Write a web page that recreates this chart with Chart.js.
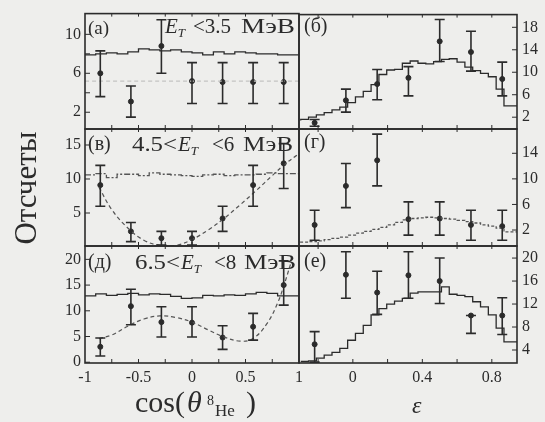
<!DOCTYPE html>
<html>
<head>
<meta charset="utf-8">
<script src="https://cdn.jsdelivr.net/npm/chart.js"></script>
<style>
  body { margin: 0; background: #eeeeec; }
  #wrap { position: relative; width: 545px; height: 422px; }
  #wrap canvas { position: absolute; left: 0; top: 0; }
</style>
</head>
<body>
<div id="wrap">
  <canvas id="pA" width="545" height="422"></canvas>
  <canvas id="pB" width="545" height="422"></canvas>
  <canvas id="pV" width="545" height="422"></canvas>
  <canvas id="pG" width="545" height="422"></canvas>
  <canvas id="pD" width="545" height="422"></canvas>
  <canvas id="pE" width="545" height="422"></canvas>
</div>
<script>
// ---- данные: угловые распределения (левая колонка) ----
var cosPts = [-0.857, -0.571, -0.286, 0, 0.286, 0.571, 0.857];
var cosHistStart = -1, cosHistWidth = 0.1;

var aVal = [6.0, 3.1, 8.8, 5.2, 5.1, 5.1, 5.1];
var aLo  = [3.6, 1.5, 6.0, 2.9, 2.9, 2.9, 2.9];
var aHi  = [8.3, 4.7, 11.5, 7.1, 7.1, 7.1, 7.1];
var aHist = [7.9, 7.9, 8.0, 8.1, 8.0, 8.2, 8.5, 8.4, 8.3, 8.4, 8.2, 8.1, 7.9, 8.2, 8.0, 8.2, 8.1, 8.0, 8.0, 7.9];
var aFitX = [-1, 1];
var aFitY = [5.2, 5.2];

var vVal = [9.1, 2.3, 1.3, 1.3, 4.2, 9.1, 12.3];
var vLo  = [6.0, 0.8, 0.3, 0.3, 2.3, 6.0, 8.6];
var vHi  = [12.0, 3.6, 2.3, 2.3, 6.0, 12.0, 15.2];
var vHist = [10.6, 10.6, 10.8, 10.2, 10.7, 10.7, 10.5, 10.9, 10.7, 10.6, 10.5, 10.4, 10.6, 10.7, 10.5, 10.6, 10.6, 10.7, 10.9, 10.8];
var vFitX = [-0.87, -0.75, -0.6, -0.45, -0.3, -0.15, 0, 0.15, 0.3, 0.45, 0.6, 0.75, 0.87, 0.98];
var vFitY = [8.8, 5.5, 2.8, 1.0, 0.25, 0.25, 1.1, 2.5, 4.2, 6.2, 8.3, 10.5, 12.2, 13.5];

var dVal = [3.0, 10.9, 7.8, 7.7, 4.8, 6.9, 15.0];
var dLo  = [1.2, 7.3, 4.9, 4.9, 2.5, 4.3, 11.1];
var dHi  = [4.7, 14.2, 10.8, 10.8, 7.1, 9.5, 19.7];
var dHist = [12.8, 12.9, 13.3, 13.0, 13.2, 13.4, 13.1, 13.3, 13.2, 12.8, 12.4, 12.5, 13.0, 12.9, 13.1, 13.0, 13.3, 13.6, 13.4, 12.9];
var dFitX = [-0.87, -0.75, -0.6, -0.45, -0.3, -0.15, 0, 0.15, 0.3, 0.45, 0.57, 0.7, 0.8, 0.86, 0.92];
var dFitY = [4.6, 5.3, 7.0, 8.4, 9.0, 8.7, 7.8, 6.3, 4.9, 4.1, 4.6, 7.5, 11.5, 15.0, 19.0];

// ---- данные: распределения по eps (правая колонка) ----
var epsPts = [-0.22, -0.04, 0.14, 0.32, 0.5, 0.68, 0.86];
var epsHistStart = -0.3, epsHistWidth = 0.045;

var bVal = [1.0, 5.0, 7.9, 9.0, 15.5, 13.6, 8.8];
var bLo  = [0.4, 2.9, 5.1, 5.8, 11.9, 10.2, 5.8];
var bHi  = [1.6, 7.0, 10.5, 11.0, 19.4, 17.3, 11.8];
var bHist = [1.4, 1.6, 2.0, 2.4, 2.8, 3.3, 3.8, 4.6, 5.6, 6.6, 7.8, 9.6, 10.4, 10.5, 11.6, 12.0, 11.6, 11.5, 11.9, 12.3, 12.4, 11.8, 10.9, 10.3, 9.8, 9.2, 7.0, 4.0];

var gVal = [2.8, 8.9, 12.9, 3.7, 3.8, 2.8, 2.6];
var gLo  = [0.4, 5.5, 8.9, 1.2, 1.2, 0.4, 0.4];
var gHi  = [5.1, 12.4, 17.0, 6.4, 6.4, 5.1, 5.1];
var gHist = [0.0, 0.1, 0.2, 0.3, 0.5, 0.7, 0.9, 1.2, 1.5, 1.8, 2.1, 2.4, 2.8, 3.2, 3.6, 3.8, 3.9, 4.0, 3.9, 3.8, 3.7, 3.5, 3.3, 3.1, 2.8, 2.6, 2.3, 1.7];

var eVal = [5.0, 17.1, 14.0, 17.0, 16.0, 10.0, 10.0];
var eLo  = [1.9, 13.0, 10.2, 13.0, 12.1, 6.9, 6.7];
var eHi  = [7.2, 21.1, 17.7, 21.1, 20.0, 10.0, 13.1];
var eHist = [2.0, 2.0, 2.1, 2.6, 3.1, 3.6, 4.3, 5.7, 6.9, 8.3, 10.1, 11.2, 12.0, 12.5, 13.0, 13.9, 14.1, 14.1, 14.1, 15.0, 13.7, 13.5, 13.3, 12.4, 11.5, 10.1, 7.8, 5.4];

// ---- метки осей ----
var cosTicks = [-1, -0.5, 0, 0.5, 1];
var cosMarks = [-0.75, -0.5, -0.25, 0, 0.25, 0.5, 0.75];
var epsTicks = [0, 0.4, 0.8];
var epsMarks = [-0.2, 0, 0.2, 0.4, 0.6, 0.8];
var aTicks = [2, 6, 10];
var bTicks = [2, 6, 10, 14, 18];
var vTicks = [5, 10, 15];
var gTicks = [2, 6, 10, 14];
var dTicks = [0, 5, 10, 15, 20];
var eTicks = [4, 8, 12, 16, 20];

var ink = '#2b2b2b';
var serif = '"Liberation Serif", "DejaVu Serif", serif';

function xy(xs, ys) {
    return xs.map(function (x, i) { return { x: x, y: ys[i] }; });
}
function steps(start, width, vals) {
    var pts = vals.map(function (v, i) { return { x: start + i * width, y: v }; });
    pts.push({ x: start + vals.length * width, y: vals[vals.length - 1] });
    return pts;
}

// текст с курсивом и индексами; x у части - абсолютная позиция, span - ширина
function rich(ctx, x, y, parts, size) {
    var cx = x;
    parts.forEach(function (p) {
        var s = p.s || '', fs = p.size || size, dy = p.dy || 0;
        if (s.indexOf('sub') >= 0) { fs = p.size || size * 0.62; dy = p.dy || size * 0.3; }
        ctx.font = (s.indexOf('i') === 0 ? 'italic ' : '') + fs + 'px ' + serif;
        if (p.x != null) cx = p.x;
        var w = ctx.measureText(p.t).width, k = p.span ? p.span / w : 1;
        ctx.save();
        ctx.translate(cx, y + dy);
        ctx.scale(k, 1);
        ctx.fillText(p.t, 0, 0);
        ctx.restore();
        cx += w * k + (p.g || 0);
    });
}

var decor = {
    id: 'decor',
    afterDatasetsDraw: function (chart, args, o) {
        var ctx = chart.ctx, a = chart.chartArea;
        var xs = chart.scales.x, ys = chart.scales.y;
        ctx.save();
        ctx.beginPath();
        ctx.rect(a.left, a.top, a.right - a.left, a.bottom - a.top);
        ctx.clip();
        // планки ошибок
        chart.data.datasets.forEach(function (ds, di) {
            if (!ds.errLo) return;
            var meta = chart.getDatasetMeta(di);
            ctx.strokeStyle = ink;
            ctx.lineWidth = 1.6;
            meta.data.forEach(function (pt, i) {
                var t = ys.getPixelForValue(ds.errHi[i]);
                var b = ys.getPixelForValue(ds.errLo[i]);
                ctx.beginPath();
                ctx.moveTo(pt.x, t); ctx.lineTo(pt.x, b);
                ctx.moveTo(pt.x - 5, t); ctx.lineTo(pt.x + 5, t);
                ctx.moveTo(pt.x - 5, b); ctx.lineTo(pt.x + 5, b);
                ctx.stroke();
            });
        });
        // внутренние штрихи
        ctx.strokeStyle = ink;
        ctx.lineWidth = 1;
        ctx.beginPath();
        o.xMarks.forEach(function (v) {
            var px = xs.getPixelForValue(v);
            ctx.moveTo(px, a.bottom); ctx.lineTo(px, a.bottom - 4);
            ctx.moveTo(px, a.top); ctx.lineTo(px, a.top + 3);
        });
        o.yMarks.forEach(function (v) {
            var py = ys.getPixelForValue(v);
            if (o.right) { ctx.moveTo(a.right, py); ctx.lineTo(a.right - 5, py); }
            else { ctx.moveTo(a.left, py); ctx.lineTo(a.left + 5, py); }
        });
        ctx.stroke();
        ctx.restore();

        // рамка
        ctx.save();
        ctx.strokeStyle = ink;
        ctx.lineWidth = 1.6;
        ctx.strokeRect(a.left, a.top, a.right - a.left, a.bottom - a.top);
        ctx.fillStyle = ink;
        ctx.textBaseline = 'middle';
        (o.texts || []).forEach(function (t) {
            if (t.rot) {
                ctx.save();
                ctx.translate(t.x, t.y);
                ctx.rotate(-Math.PI / 2);
                ctx.textAlign = 'center';
                ctx.font = t.size + 'px ' + serif;
                ctx.fillText(t.parts[0].t, 0, 0);
                ctx.restore();
            } else {
                ctx.textAlign = 'left';
                rich(ctx, t.x, t.y, t.parts, t.size);
            }
        });
        ctx.restore();
    }
};
Chart.register(decor);

function panel(id, p) {
    var bottomRow = p.bottomRow;
    var yW = p.right ? 26 : 40;
    var xH = bottomRow ? 26 : 0;
    var datasets = [];
    datasets.push({
        data: p.hist, showLine: true, stepped: 'after', pointRadius: 0,
        borderColor: p.histColor || ink, borderWidth: 1.3, borderDash: p.histDash || []
    });
    if (p.fit) {
        datasets.push({
            data: p.fit, showLine: true, tension: 0.4, pointRadius: 0,
            borderColor: p.fitColor || '#555', borderWidth: 1.2, borderDash: [4, 3]
        });
    }
    datasets.push({
        data: p.points, showLine: false, pointRadius: 2.5, pointStyle: 'circle',
        backgroundColor: ink, borderColor: ink, errLo: p.lo, errHi: p.hi
    });
    return new Chart(document.getElementById(id), {
        type: 'scatter',
        data: { datasets: datasets },
        options: {
            responsive: false,
            animation: false,
            layout: {
                padding: {
                    left: p.right ? 299 : 85 - yW,
                    right: p.right ? 545 - 517 - yW : 545 - 299,
                    top: p.top,
                    bottom: 422 - p.bottom - xH
                }
            },
            plugins: {
                legend: { display: false },
                tooltip: { enabled: false },
                decor: { xMarks: p.xMarks, yMarks: p.yTicks.concat(p.yMinor || []), right: p.right, texts: p.texts }
            },
            scales: {
                x: {
                    type: 'linear', position: 'bottom', min: p.xMin, max: p.xMax,
                    grid: { display: false, drawTicks: false },
                    border: { display: false },
                    ticks: {
                        display: bottomRow, color: ink, padding: 5,
                        font: { family: serif, size: 16 },
                        callback: function (v) { return String(v); }
                    },
                    afterBuildTicks: function (s) { s.ticks = p.xTicks.map(function (v) { return { value: v }; }); },
                    afterFit: function (s) { s.height = xH; }
                },
                y: {
                    type: 'linear', position: p.right ? 'right' : 'left', min: p.yMin, max: p.yMax,
                    grid: { display: false, drawTicks: false },
                    border: { display: false },
                    ticks: {
                        color: ink, padding: p.right ? 5 : 4, font: { family: serif, size: 16 },
                        callback: function (v) { return String(v); }
                    },
                    afterBuildTicks: function (s) { s.ticks = p.yTicks.map(function (v) { return { value: v }; }); },
                    afterFit: function (s) { s.width = yW; }
                }
            }
        }
    });
}

// подпись условия E_T с позициями частей
function cond(lo, hi, xs) {
    var parts = [];
    if (lo) parts.push({ t: lo, x: xs[0], span: xs[1] - xs[0] - 1 });
    parts.push({ t: 'E', s: 'i', x: xs[1] });
    parts.push({ t: 'T', s: 'isub' });
    parts.push({ t: hi, x: xs[2] });
    parts.push({ t: 'МэВ', x: xs[3], span: xs[4] - xs[3] });
    return parts;
}

panel('pA', {
    top: 12, bottom: 129, xMin: -1, xMax: 1, yMin: 0.28, yMax: 12.13,
    xTicks: cosTicks, xMarks: cosMarks, yTicks: aTicks, yMinor: [4, 8],
    points: xy(cosPts, aVal), lo: aLo, hi: aHi,
    hist: steps(cosHistStart, cosHistWidth, aHist),
    fit: xy(aFitX, aFitY), fitColor: '#c4c4c2',
    texts: [
        { x: 88, y: 29, size: 19, parts: [{ t: '(а)' }] },
        { x: 165, y: 27, size: 21, parts: cond(null, '<3.5', [0, 165, 193, 241, 295]) }
    ]
});
panel('pB', {
    right: true, top: 12, bottom: 129, xMin: -0.31, xMax: 0.945, yMin: -0.1, yMax: 20.26,
    xTicks: epsTicks, xMarks: epsMarks, yTicks: bTicks,
    points: xy(epsPts, bVal), lo: bLo, hi: bHi,
    hist: steps(epsHistStart, epsHistWidth, bHist),
    texts: [{ x: 304, y: 27, size: 20, parts: [{ t: '(б)' }] }]
});
panel('pV', {
    top: 129, bottom: 246, xMin: -1, xMax: 1, yMin: 0.15, yMax: 17.35,
    xTicks: cosTicks, xMarks: cosMarks, yTicks: vTicks,
    points: xy(cosPts, vVal), lo: vLo, hi: vHi,
    hist: steps(cosHistStart, cosHistWidth, vHist), histColor: '#555', histDash: [6, 2, 2, 2],
    fit: xy(vFitX, vFitY),
    texts: [
        { x: 88, y: 145, size: 20, parts: [{ t: '(в)' }] },
        { x: 132, y: 145, size: 21, parts: cond('4.5<', '<6', [132, 178, 212, 243, 293]) },
        { x: 28, y: 188, size: 31, rot: true, parts: [{ t: 'Отсчеты' }] }
    ]
});
panel('pG', {
    right: true, top: 129, bottom: 246, xMin: -0.31, xMax: 0.945, yMin: -0.5, yMax: 17.8,
    xTicks: epsTicks, xMarks: epsMarks, yTicks: gTicks,
    points: xy(epsPts, gVal), lo: gLo, hi: gHi,
    hist: steps(epsHistStart, epsHistWidth, gHist), histColor: '#555', histDash: [3, 2],
    texts: [{ x: 304, y: 143, size: 20, parts: [{ t: '(г)' }] }]
});
panel('pD', {
    bottomRow: true, top: 246, bottom: 363, xMin: -1, xMax: 1, yMin: -0.15, yMax: 22.6,
    xTicks: cosTicks, xMarks: cosMarks, yTicks: dTicks,
    points: xy(cosPts, dVal), lo: dLo, hi: dHi,
    hist: steps(cosHistStart, cosHistWidth, dHist),
    fit: xy(dFitX, dFitY),
    texts: [
        { x: 88, y: 263, size: 20, parts: [{ t: '(д)' }] },
        { x: 135, y: 263, size: 21, parts: cond('6.5<', '<8', [135, 181, 214, 244, 296]) },
        { x: 135, y: 404, size: 30, parts: [
            { t: 'cos(', x: 135 },
            { t: 'θ', s: 'i', x: 187 },
            { t: '8', x: 207, size: 14, dy: -3 },
            { t: 'He', x: 215, size: 17, dy: 8 },
            { t: ')', x: 246 }
        ] }
    ]
});
panel('pE', {
    right: true, bottomRow: true, top: 246, bottom: 363, xMin: -0.31, xMax: 0.945, yMin: 1.74, yMax: 22.1,
    xTicks: epsTicks, xMarks: epsMarks, yTicks: eTicks,
    points: xy(epsPts, eVal), lo: eLo, hi: eHi,
    hist: steps(epsHistStart, epsHistWidth, eHist),
    texts: [
        { x: 304, y: 262, size: 20, parts: [{ t: '(е)' }] },
        { x: 412, y: 407, size: 24, parts: [{ t: 'ε', s: 'i' }] }
    ]
});
</script>
</body>
</html>
